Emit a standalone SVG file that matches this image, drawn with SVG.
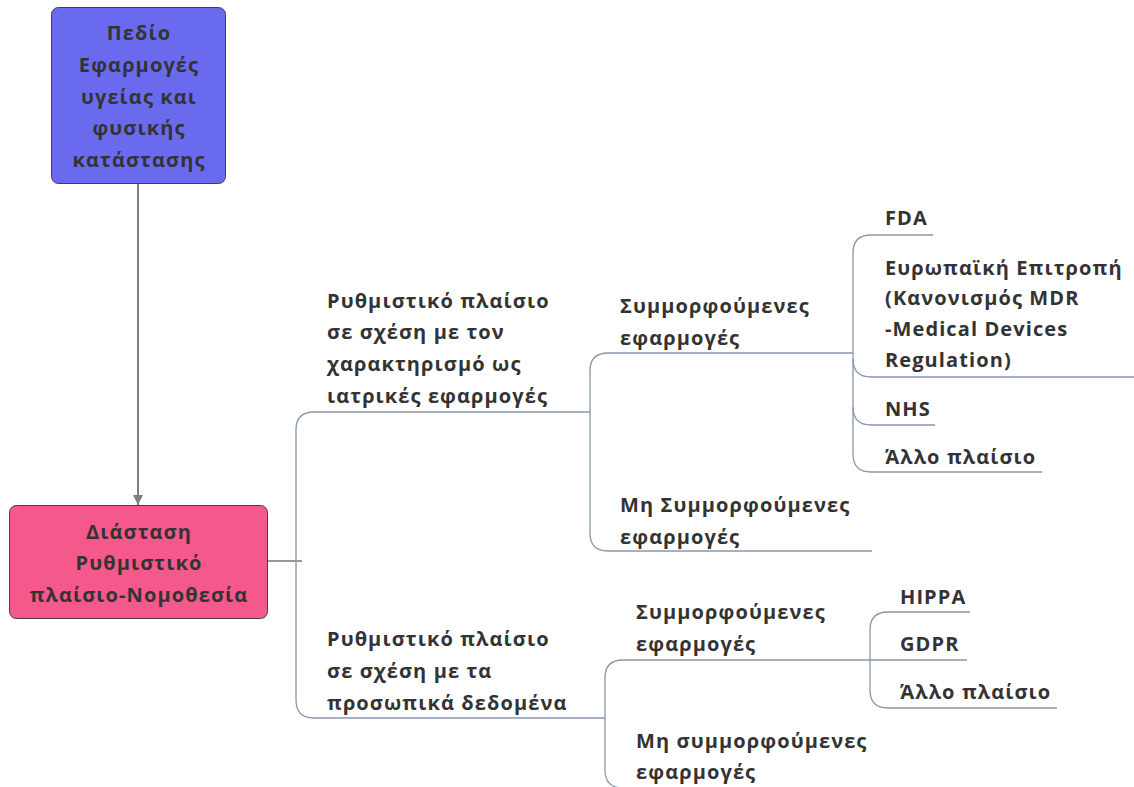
<svg xmlns="http://www.w3.org/2000/svg" width="1134" height="787" viewBox="0 0 1134 787">
<defs>
<style>
text{font-family:"Open Sans","Noto Sans","DejaVu Sans",sans-serif;font-weight:700;font-size:20px;letter-spacing:1.1px;fill:#333333}
.c{text-anchor:middle}
.br{fill:none;stroke:#8797ad;stroke-width:1.3}
</style>
<marker id="ah" viewBox="0 0 10 10" refX="10" refY="5" markerWidth="12" markerHeight="10" markerUnits="userSpaceOnUse" orient="auto">
<path d="M0,0 L10,5 L0,10 z" fill="#7f7f7f"/>
</marker>
</defs>
<rect width="1134" height="787" fill="#ffffff"/>
<g id="connectors">
<line x1="138" y1="183" x2="138" y2="505" stroke="#7f7f7f" stroke-width="2" marker-end="url(#ah)"/>
<line x1="268" y1="561" x2="302" y2="561" stroke="#333333" stroke-width="1.2"/>
<path class="br" d="M314 412 Q296 412 296 430 L296 700 Q296 718 314 718"/>
<line class="br" x1="314" y1="412" x2="590" y2="412"/>
<line class="br" x1="314" y1="718" x2="605" y2="718"/>
<path class="br" d="M608 353 Q590 353 590 371 L590 533 Q590 551 608 551"/>
<line class="br" x1="608" y1="353" x2="853" y2="353"/>
<line class="br" x1="608" y1="551" x2="872" y2="551"/>
<path class="br" d="M871 235 Q853 235 853 253 L853 454 Q853 472 871 472"/>
<path class="br" d="M853 359 Q853 377 871 377"/>
<path class="br" d="M853 407 Q853 425 871 425"/>
<line class="br" x1="871" y1="235" x2="933" y2="235"/>
<line class="br" x1="871" y1="377" x2="1134" y2="377"/>
<line class="br" x1="871" y1="425" x2="935" y2="425"/>
<line class="br" x1="871" y1="472" x2="1042" y2="472"/>
<path class="br" d="M623 660 Q605 660 605 678 L605 770 Q605 788 623 788"/>
<line class="br" x1="623" y1="660" x2="967" y2="660"/>
<path class="br" d="M888 612 Q870 612 870 630 L870 690 Q870 708 888 708"/>
<line class="br" x1="888" y1="612" x2="970" y2="612"/>
<line class="br" x1="888" y1="708" x2="1057" y2="708"/>
</g>
<g id="node-pedio">
<rect x="51.5" y="7.5" width="174" height="176" rx="7" fill="#6a6aee" stroke="#3c3c5a" stroke-width="1"/>
<text class="c" x="139" y="40">Πεδίο</text>
<text class="c" x="139" y="72">Εφαρμογές</text>
<text class="c" x="139" y="104">υγείας και</text>
<text class="c" x="139" y="135">φυσικής</text>
<text class="c" x="139" y="167">κατάστασης</text>
</g>
<g id="node-diastasi">
<rect x="9.5" y="505.5" width="258" height="113" rx="7" fill="#f5588b" stroke="#4a3a40" stroke-width="1"/>
<text class="c" x="139" y="539">Διάσταση</text>
<text class="c" x="139" y="570">Ρυθμιστικό</text>
<text class="c" x="139" y="602">πλαίσιο-Νομοθεσία</text>
</g>
<g id="node-iatrikes">
<text x="327" y="308">Ρυθμιστικό πλαίσιο</text>
<text x="327" y="339">σε σχέση με τον</text>
<text x="327" y="371">χαρακτηρισμό ως</text>
<text x="327" y="403">ιατρικές εφαρμογές</text>
</g>
<g id="node-symm1">
<text x="620" y="313">Συμμορφούμενες</text>
<text x="620" y="345">εφαρμογές</text>
</g>
<g id="node-fda"><text x="885" y="225">FDA</text></g>
<g id="node-eu">
<text x="885" y="275">Ευρωπαϊκή Επιτροπή</text>
<text x="885" y="305">(Κανονισμός MDR</text>
<text x="885" y="336">-Medical Devices</text>
<text x="885" y="367">Regulation)</text>
</g>
<g id="node-nhs"><text x="885" y="416">NHS</text></g>
<g id="node-allo1"><text x="885" y="464">Άλλο πλαίσιο</text></g>
<g id="node-misymm1">
<text x="620" y="512">Μη Συμμορφούμενες</text>
<text x="620" y="544">εφαρμογές</text>
</g>
<g id="node-prosopika">
<text x="327" y="646">Ρυθμιστικό πλαίσιο</text>
<text x="327" y="678">σε σχέση με τα</text>
<text x="327" y="710">προσωπικά δεδομένα</text>
</g>
<g id="node-symm2">
<text x="636" y="619">Συμμορφούμενες</text>
<text x="636" y="651">εφαρμογές</text>
</g>
<g id="node-hippa"><text x="900" y="604">HIPPA</text></g>
<g id="node-gdpr"><text x="900" y="651">GDPR</text></g>
<g id="node-allo2"><text x="900" y="699">Άλλο πλαίσιο</text></g>
<g id="node-misymm2">
<text x="636" y="748">Μη συμμορφούμενες</text>
<text x="636" y="779">εφαρμογές</text>
</g>
</svg>
